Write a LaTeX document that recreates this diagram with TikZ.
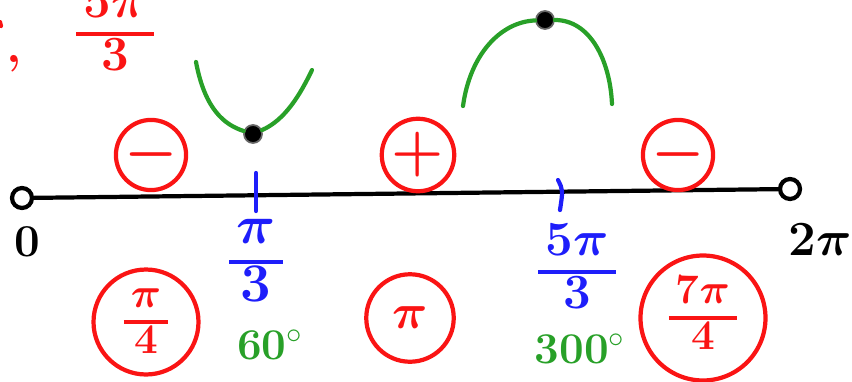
\documentclass[tikz,border=0pt]{standalone}
\usepackage{fix-cm}
\usepackage{amsmath}
\usepackage{xcolor}
\usetikzlibrary{positioning, calc}

\definecolor{penred}{RGB}{250,20,20}
\definecolor{pengreen}{RGB}{40,160,40}
\definecolor{penblue}{RGB}{30,30,250}

% hand-written fraction: numerator, thick bar, denominator
\newcommand{\penfrac}[2]{{\setlength{\arrayrulewidth}{2.4pt}\setlength{\tabcolsep}{4pt}%
  \renewcommand{\arraystretch}{0.92}\begin{tabular}{c}#1\\\hline#2\end{tabular}}}

\begin{document}
\begin{tikzpicture}[
    x=0.02cm, y=-0.02cm,
    pen/.style={line width=2.4pt, line cap=round, line join=round},
    sign/.style={circle, draw=penred, pen, text=penred, minimum size=#1, inner sep=0pt, font=\fontsize{34}{36}\selectfont\boldmath},
    endpt/.style={circle, draw=black, pen, fill=white, minimum size=0.4cm, inner sep=0pt},
    dot/.style={circle, fill=black, draw=black!60, line width=1pt, minimum size=0.36cm, inner sep=0pt},
    lbl/.style={font=\fontsize{28}{30}\selectfont\boldmath\bfseries},
    deg/.style={text=pengreen, font=\fontsize{25}{27}\selectfont\bfseries},
]
\useasboundingbox (0,0) rectangle (852,382);

% number line
\node[endpt] (lend) at (22,198) {};
\node[endpt] (rend) at (790,189) {};
\draw[pen, black] (lend) -- (rend);
\node[font=\fontsize{26}{28}\selectfont\bfseries] (zero) at (27,242) {0};
\node[lbl] (twopi) at (820,240) {$2\pi$};

% ticks
\coordinate (t1) at (256,193);
\coordinate (t2) at (560,194);
\draw[pen, penblue] ($(t1)+(0,-20)$) -- ($(t1)+(0,18)$);
\draw[pen, penblue] ($(t2)+(-2,-14)$) .. controls ($(t2)+(3,-4)$) .. ($(t2)+(0,16)$);
\node[lbl, text=penblue, font=\fontsize{31}{33}\selectfont\boldmath\bfseries] (pithird) at (256,262) {\penfrac{$\pi$}{3}};
\node[lbl, text=penblue] (fivepithird) at (577,272) {\penfrac{5$\pi$}{3}};
\node[deg] (sixty) at (270,345) {60$^\circ$};
\node[deg] (threehundred) at (580,349) {300$^\circ$};

% signs on the intervals
\node[sign=1.3cm] (m1) at (151,155) {$-$};
\node[sign=1.45cm] (p1) at (418,155) {$+$};
\node[sign=1.3cm] (m2) at (678,155) {$-$};

% circled angles below
\node[sign=2.1cm, font=\fontsize{24}{26}\selectfont\boldmath\bfseries] (c1) at (146,322) {\penfrac{$\pi$}{4}};
\node[sign=1.75cm, font=\fontsize{28}{30}\selectfont\boldmath] (c2) at (410,318) {$\pi$};
\node[sign=2.5cm, font=\fontsize{24}{26}\selectfont\boldmath\bfseries] (c3) at (703,318) {\penfrac{7$\pi$}{4}};

% minimum and maximum sketches
\node[dot] (umin) at (253,134) {};
\node[dot] (amax) at (545,20) {};
\coordinate (ua) at (196,62);
\coordinate (ub) at (312,70);
\coordinate (aa) at (463,106);
\coordinate (ab) at (612,104);
\draw[pen, pengreen] (ua) .. controls (205,110) and (225,125) .. (umin);
\draw[pen, pengreen] (umin) .. controls (285,120) and (300,95) .. (ub);
\draw[pen, pengreen] (aa) .. controls (470,55) and (500,22) .. (amax);
\draw[pen, pengreen] (amax) .. controls (590,20) and (610,60) .. (ab);

% red notes at the top left
\node[lbl, text=penred] (note) at (115,34) {\penfrac{5$\pi$}{3}};
\node[lbl, text=penred] (comma) at (14,64) {,};
\draw[pen, penred] (0,22) -- (1,26);

\end{tikzpicture}
\end{document}
